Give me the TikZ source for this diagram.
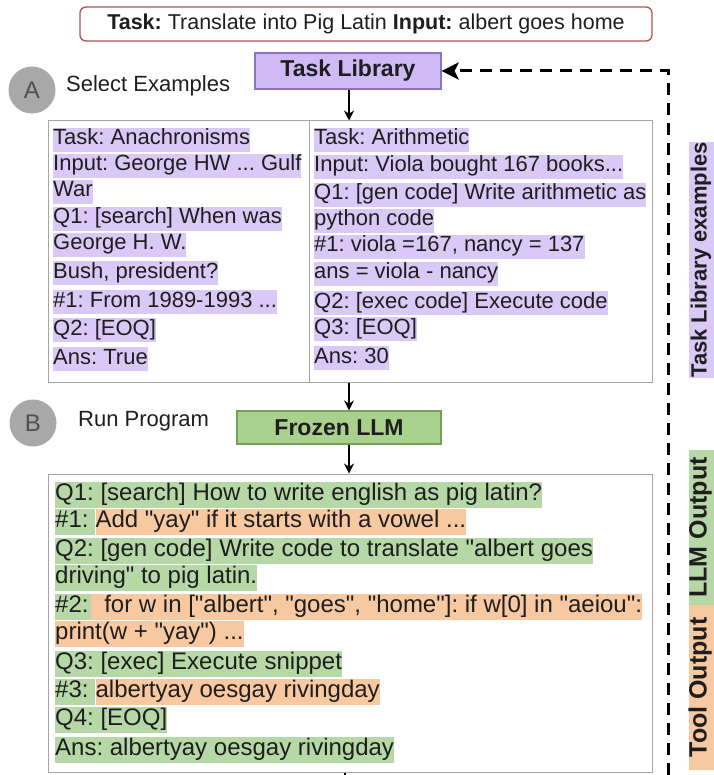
\documentclass[tikz,border=0pt]{standalone}
\usepackage{fontspec}
\setmainfont{Liberation Sans}[Ligatures=TeXOff]
\usetikzlibrary{arrows.meta}
\frenchspacing

\definecolor{ink}{RGB}{30,30,30}
\definecolor{hlpurple}{RGB}{218,201,247}
\definecolor{libfill}{RGB}{207,186,245}
\definecolor{libborder}{RGB}{140,115,190}
\definecolor{hlgreen}{RGB}{182,215,166}
\definecolor{llmfill}{RGB}{169,209,142}
\definecolor{llmborder}{RGB}{118,160,88}
\definecolor{hlorange}{RGB}{248,201,160}
\definecolor{boxgray}{RGB}{165,165,165}
\definecolor{titleborder}{RGB}{176,82,82}
\definecolor{badge}{RGB}{168,168,168}
\definecolor{badgeink}{RGB}{80,80,80}

\begin{document}
\begin{tikzpicture}[x=1pt,y=-1pt,
  exline/.style={anchor=west, inner sep=0pt, text height=17pt, text depth=7pt,
    font=\fontsize{22}{26}\selectfont, text=ink},
  pl/.style={exline, fill=hlpurple},
  botline/.style={anchor=west, inner sep=0pt, text height=18.5pt, text depth=8pt,
    font=\fontsize{24}{28}\selectfont, text=ink},
  gl/.style={botline, fill=hlgreen},
  ol/.style={botline, fill=hlorange},
  frame/.style={draw=boxgray, line width=1pt, inner sep=0pt},
  badgenode/.style={circle, fill=badge, minimum size=47pt, inner sep=0pt,
    text=badgeink, font=\fontsize{24}{26}\selectfont},
  caption/.style={anchor=west, inner sep=0pt, text=ink, font=\fontsize{22}{26}\selectfont},
  arr/.style={-{Stealth[length=10pt,width=10pt]}, line width=1.4pt, black},
  dasharr/.style={-{Stealth[length=17pt,width=17pt,inset=4pt]}, line width=3pt,
    dash pattern=on 12pt off 8pt, black},
  sidelbl/.style={rotate=90, inner sep=0pt, text height=18pt, text depth=7pt,
    text=ink, align=center},
]
\useasboundingbox (0,0) rectangle (713,775);

% request at the top
\node[draw=titleborder, rounded corners=6pt, line width=1.3pt, minimum width=572pt,
  minimum height=34pt, inner sep=0pt, text=ink, font=\fontsize{21.5}{24}\selectfont]
  (task) at (366,24) {\textbf{Task:} Translate into Pig Latin \textbf{Input:} albert goes home};

% task library
\node[draw=libborder, fill=libfill, line width=1.2pt, minimum width=186pt,
  minimum height=36pt, inner sep=0pt, text=ink, font=\bfseries\fontsize{23}{26}\selectfont]
  (lib) at (348,71) {Task Library};

\node[badgenode] (badgeA) at (32,90) {A};
\node[caption] (selcap) at (66,86) {Select Examples};

% selected examples
\node[frame, minimum width=604pt, minimum height=261pt] (ex) at (350,251.5) {};
\draw[boxgray, line width=1pt] (309,121) -- (309,382);

\node[pl] (a1) at (53,140) {Task: Anachronisms};
\node[pl] (a2) at (53,166) {Input: George HW ... Gulf};
\node[pl] (a3) at (53,192) {War};
\node[pl] (a4) at (53,219) {Q1: [search] When was};
\node[pl] (a5) at (53,245) {George H. W.};
\node[pl] (a6) at (53,273) {Bush, president?};
\node[pl] (a7) at (53,302) {\#1: From 1989-1993 ...};
\node[pl] (a8) at (53,330) {Q2: [EOQ]};
\node[pl] (a9) at (53,359) {Ans: True};

\node[pl] (r1) at (314,140) {Task: Arithmetic};
\node[pl] (r2) at (314,167) {Input: Viola bought 167 books...};
\node[pl] (r3) at (314,195) {Q1: [gen code] Write arithmetic as};
\node[pl] (r4) at (314,221) {python code};
\node[pl] (r5) at (314,247) {\#1: viola =167, nancy = 137};
\node[pl] (r6) at (314,274) {ans = viola - nancy};
\node[pl] (r7) at (314,303) {Q2: [exec code] Execute code};
\node[pl] (r8) at (314,329) {Q3: [EOQ]};
\node[pl] (r9) at (314,358) {Ans: 30};

% frozen model
\node[badgenode] (badgeB) at (33,423) {B};
\node[caption] (runcap) at (78,421) {Run Program};
\node[draw=llmborder, fill=llmfill, line width=1.2pt, minimum width=204pt,
  minimum height=33pt, inner sep=0pt, text=ink, font=\bfseries\fontsize{23}{26}\selectfont]
  (llm) at (339,427.5) {Frozen LLM};

% program run
\node[frame, minimum width=604pt, minimum height=298pt] (run) at (350,623) {};

\node[gl] (b1) at (55,495) {Q1: [search] How to write english as pig latin?};
\node[gl] (b2a) at (55,522) {\#1:\ \null};
\node[ol] (b2b) at (b2a.east) {Add "yay" if it starts with a vowel ...};
\node[gl] (b3) at (55,551) {Q2: [gen code] Write code to translate "albert goes};
\node[gl] (b4) at (55,578) {driving" to pig latin.};
\node[gl] (b5a) at (55,607) {\#2:\hspace*{2pt}\null};
\node[ol] (b5b) at (b5a.east) {\ \ for w in ["albert", "goes", "home"]: if w[0] in "aeiou":};
\node[ol] (b6) at (55,634) {print(w + "yay") ...};
\node[gl] (b7) at (55,664) {Q3: [exec] Execute snippet};
\node[gl] (b8a) at (55,692) {\#3:\ \null};
\node[ol] (b8b) at (b8a.east) {albertyay oesgay rivingday};
\node[gl] (b9) at (55,720) {Q4: [EOQ]};
\node[gl] (b10) at (55,750) {Ans: albertyay oesgay rivingday};

% flow arrows
\coordinate (axis) at (349,0);
\draw[arr] (lib.south -| axis) -- (ex.north -| axis);
\draw[arr] (ex.south -| axis) -- (llm.north -| axis);
\draw[arr] (llm.south -| axis) -- (run.north -| axis);
\coordinate (runout) at (345,775);
\draw[line width=1.4pt] (run.south -| runout) -- (runout);

% feedback into the library
\coordinate (dashfoot) at (668,775);
\draw[dasharr] (dashfoot) |- (lib.east);

% side legend
\node[sidelbl, fill=hlpurple, minimum width=236pt, font=\bfseries\fontsize{22}{24}\selectfont]
  (legex) at (701,260) {Task Library examples};
\node[sidelbl, fill=hlgreen, minimum width=155pt, font=\bfseries\fontsize{25}{27}\selectfont]
  (legllm) at (701,527.5) {LLM Output};
\node[sidelbl, fill=hlorange, minimum width=165pt, font=\bfseries\fontsize{25}{27}\selectfont]
  (legtool) at (701,687.5) {Tool Output};
\end{tikzpicture}
\end{document}
